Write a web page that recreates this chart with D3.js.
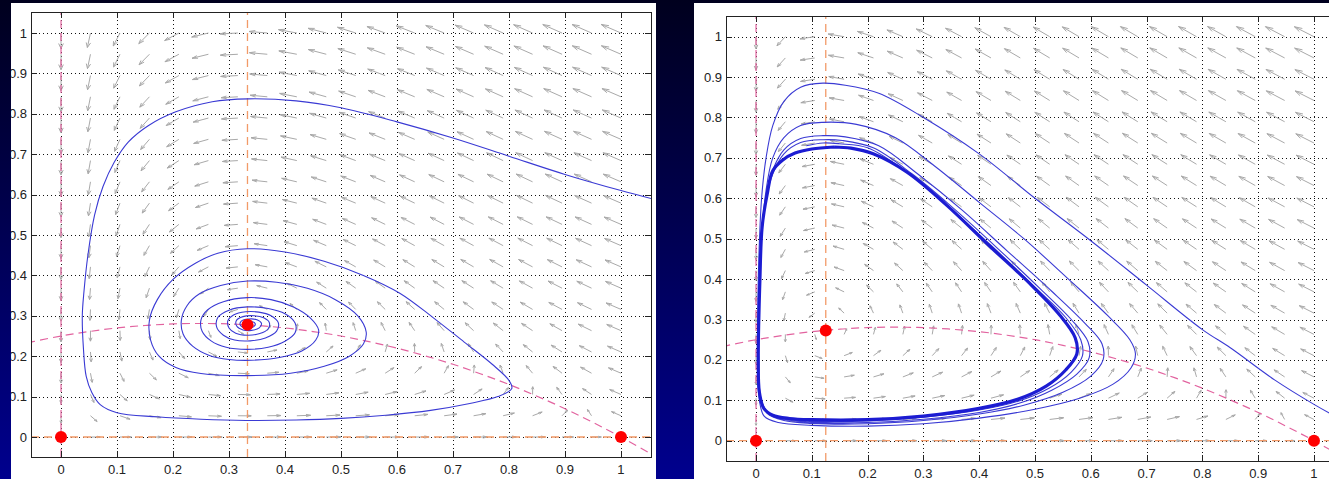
<!DOCTYPE html>
<html>
<head>
<meta charset="utf-8">
<script src="https://cdn.jsdelivr.net/npm/d3@7"></script>
<style>
html, body { margin: 0; padding: 0; background: #000030; }
svg { display: block; }
.tick-label { font-family: "Liberation Sans", Arial, sans-serif; font-size: 13px; fill: #222; }
</style>
</head>
<body>
<div id="chart"></div>
<script>
var width = 1329;
var height = 479;

// quiver grid (linspace 0..1, 20 points) and axis ticks
var gridPts = [0, 0.0526, 0.1053, 0.1579, 0.2105, 0.2632, 0.3158, 0.3684, 0.4211, 0.4737, 0.5263, 0.5789, 0.6316, 0.6842, 0.7368, 0.7895, 0.8421, 0.8947, 0.9474, 1];
var tickVals = [0, 0.1, 0.2, 0.3, 0.4, 0.5, 0.6, 0.7, 0.8, 0.9, 1];
var tickLabels = ["0", "0.1", "0.2", "0.3", "0.4", "0.5", "0.6", "0.7", "0.8", "0.9", "1"];

// prey velocity (same in both panels), rows = y index, cols = x index
var uField = [
  [0, .050, .094, .133, .166, .194, .216, .233, .244, .249, .249, .244, .233, .216, .194, .166, .133, .094, .050, 0],
  [0, .040, .076, .108, .135, .158, .175, .188, .196, .198, .195, .187, .174, .155, .131, .102, .067, .027, -.019, -.070],
  [0, .030, .058, .083, .104, .121, .135, .143, .148, .147, .141, .131, .115, .095, .069, .037, .001, -.041, -.088, -.140],
  [0, .020, .039, .057, .073, .085, .094, .099, .099, .096, .087, .074, .056, .034, .006, -.027, -.065, -.108, -.157, -.211],
  [0, .010, .021, .032, .041, .049, .053, .054, .051, .045, .033, .018, -.002, -.027, -.057, -.092, -.131, -.176, -.226, -.281],
  [0, -.0002, .003, .007, .010, .012, .012, .009, .003, -.007, -.021, -.039, -.061, -.088, -.120, -.156, -.197, -.243, -.295, -.351],
  [0, -.010, -.016, -.019, -.021, -.024, -.028, -.035, -.045, -.058, -.075, -.095, -.120, -.149, -.182, -.221, -.263, -.311, -.364, -.421],
  [0, -.020, -.034, -.044, -.052, -.060, -.069, -.080, -.093, -.109, -.129, -.152, -.179, -.210, -.245, -.285, -.329, -.379, -.432, -.491],
  [0, -.030, -.052, -.069, -.083, -.097, -.110, -.125, -.141, -.160, -.183, -.208, -.237, -.271, -.308, -.349, -.395, -.446, -.501, -.561],
  [0, -.040, -.071, -.094, -.115, -.133, -.151, -.169, -.189, -.212, -.237, -.265, -.296, -.331, -.371, -.414, -.461, -.514, -.570, -.632],
  [0, -.050, -.089, -.120, -.146, -.169, -.191, -.214, -.237, -.263, -.291, -.321, -.355, -.392, -.433, -.478, -.528, -.581, -.639, -.702],
  [0, -.060, -.107, -.145, -.177, -.205, -.232, -.259, -.286, -.314, -.345, -.378, -.414, -.453, -.496, -.543, -.594, -.649, -.708, -.772],
  [0, -.070, -.126, -.170, -.208, -.242, -.273, -.303, -.334, -.365, -.399, -.434, -.472, -.514, -.559, -.607, -.660, -.716, -.777, -.842],
  [0, -.080, -.144, -.195, -.239, -.278, -.314, -.348, -.382, -.416, -.453, -.491, -.531, -.575, -.621, -.672, -.726, -.784, -.846, -.912],
  [0, -.091, -.162, -.221, -.270, -.314, -.354, -.393, -.430, -.468, -.506, -.547, -.590, -.635, -.684, -.736, -.792, -.851, -.915, -.982],
  [0, -.100, -.180, -.246, -.302, -.351, -.395, -.437, -.478, -.519, -.560, -.603, -.649, -.696, -.747, -.801, -.858, -.919, -.984, -1.053],
  [0, -.111, -.199, -.271, -.333, -.387, -.436, -.482, -.526, -.570, -.614, -.660, -.707, -.757, -.810, -.865, -.924, -.986, -1.053, -1.123],
  [0, -.121, -.217, -.297, -.364, -.423, -.477, -.527, -.574, -.621, -.668, -.716, -.766, -.818, -.872, -.929, -.990, -1.054, -1.121, -1.193],
  [0, -.131, -.235, -.322, -.395, -.460, -.517, -.571, -.622, -.673, -.722, -.773, -.825, -.879, -.935, -.994, -1.056, -1.121, -1.190, -1.263],
  [0, -.141, -.254, -.347, -.426, -.496, -.558, -.616, -.671, -.724, -.776, -.829, -.884, -.940, -.998, -1.058, -1.122, -1.189, -1.259, -1.333]
];

// predator velocity, left panel
var vFieldLeft = [
  [0, 0, 0, 0, 0, 0, 0, 0, 0, 0, 0, 0, 0, 0, 0, 0, 0, 0, 0, 0],
  [-.063, -.048, -.036, -.025, -.016, -.009, -.002, .004, .009, .014, .018, .022, .025, .028, .031, .034, .036, .038, .040, .042],
  [-.126, -.096, -.071, -.051, -.033, -.017, -.004, .008, .018, .027, .036, .043, .050, .056, .062, .067, .072, .076, .080, .084],
  [-.189, -.144, -.107, -.076, -.049, -.026, -.006, .011, .027, .041, .053, .065, .075, .084, .093, .101, .108, .114, .121, .126],
  [-.253, -.192, -.143, -.101, -.065, -.035, -.008, .015, .036, .055, .071, .086, .100, .112, .124, .134, .144, .153, .161, .168],
  [-.316, -.241, -.178, -.126, -.082, -.044, -.010, .019, .045, .068, .089, .108, .125, .140, .155, .168, .180, .191, .201, .211],
  [-.379, -.289, -.214, -.152, -.098, -.052, -.012, .023, .054, .082, .107, .129, .150, .168, .185, .201, .215, .229, .241, .253],
  [-.442, -.337, -.250, -.177, -.115, -.061, -.014, .027, .063, .096, .125, .151, .175, .196, .216, .235, .251, .267, .281, .295],
  [-.505, -.385, -.286, -.202, -.131, -.070, -.016, .031, .072, .109, .143, .173, .200, .225, .247, .268, .287, .305, .322, .337],
  [-.568, -.433, -.321, -.227, -.147, -.078, -.018, .034, .081, .123, .160, .194, .225, .253, .278, .302, .323, .343, .362, .379],
  [-.632, -.481, -.357, -.253, -.164, -.087, -.020, .038, .090, .137, .178, .216, .250, .281, .309, .335, .359, .381, .402, .421],
  [-.695, -.529, -.393, -.278, -.180, -.096, -.022, .042, .099, .150, .196, .237, .275, .309, .340, .369, .395, .419, .442, .463],
  [-.758, -.577, -.428, -.303, -.196, -.105, -.024, .046, .108, .164, .214, .259, .300, .337, .371, .402, .431, .458, .482, .505],
  [-.821, -.626, -.464, -.328, -.213, -.113, -.026, .050, .117, .178, .232, .280, .325, .365, .402, .436, .467, .496, .522, .547],
  [-.884, -.674, -.500, -.354, -.229, -.122, -.029, .054, .126, .191, .249, .302, .350, .393, .433, .469, .503, .534, .563, .589],
  [-.947, -.722, -.535, -.379, -.246, -.131, -.031, .057, .135, .205, .267, .323, .375, .421, .464, .503, .539, .572, .603, .632],
  [-1.011, -.770, -.571, -.404, -.262, -.139, -.033, .061, .144, .218, .285, .345, .400, .449, .495, .536, .575, .610, .643, .674],
  [-1.074, -.818, -.607, -.429, -.278, -.148, -.035, .065, .153, .232, .303, .367, .424, .477, .525, .570, .611, .648, .683, .716],
  [-1.137, -.866, -.643, -.455, -.295, -.157, -.037, .069, .162, .246, .321, .388, .449, .505, .556, .603, .646, .686, .723, .758],
  [-1.2, -.914, -.678, -.48, -.311, -.166, -.039, .073, .171, .259, .338, .410, .474, .533, .587, .637, .682, .725, .764, .8]
];

// predator velocity, right panel
var vFieldRight = [
  [0, 0, 0, 0, 0, 0, 0, 0, 0, 0, 0, 0, 0, 0, 0, 0, 0, 0, 0, 0],
  [-.021, -.011, -.003, .004, .010, .015, .020, .024, .027, .030, .033, .035, .038, .040, .042, .043, .045, .046, .048, .049],
  [-.042, -.022, -.005, .008, .020, .030, .039, .047, .054, .060, .066, .071, .075, .080, .083, .087, .090, .093, .096, .098],
  [-.063, -.033, -.008, .013, .030, .046, .059, .071, .081, .090, .099, .106, .113, .119, .125, .130, .135, .139, .144, .147],
  [-.084, -.044, -.011, .017, .041, .061, .079, .094, .108, .121, .132, .142, .151, .159, .167, .174, .180, .186, .191, .196],
  [-.105, -.055, -.014, .021, .051, .076, .098, .118, .135, .151, .165, .177, .188, .199, .208, .217, .225, .232, .239, .246],
  [-.126, -.066, -.016, .025, .061, .091, .118, .142, .162, .181, .198, .213, .226, .239, .250, .260, .270, .279, .287, .295],
  [-.147, -.077, -.019, .029, .071, .107, .138, .165, .189, .211, .230, .248, .264, .278, .292, .304, .315, .325, .335, .344],
  [-.168, -.088, -.022, .034, .081, .122, .158, .189, .217, .241, .263, .283, .302, .318, .333, .347, .360, .372, .383, .393],
  [-.189, -.099, -.025, .038, .091, .137, .177, .212, .244, .271, .296, .319, .339, .358, .375, .391, .405, .418, .431, .442],
  [-.211, -.110, -.027, .042, .101, .152, .197, .236, .271, .302, .329, .354, .377, .398, .417, .434, .450, .465, .478, .491],
  [-.232, -.121, -.030, .046, .111, .168, .217, .260, .298, .332, .362, .390, .415, .437, .458, .477, .495, .511, .526, .540],
  [-.253, -.132, -.033, .051, .122, .183, .236, .283, .325, .362, .395, .425, .452, .477, .500, .521, .540, .558, .574, .589],
  [-.274, -.143, -.036, .055, .132, .198, .256, .307, .352, .392, .428, .461, .490, .517, .542, .564, .585, .604, .622, .639],
  [-.295, -.154, -.038, .059, .142, .213, .276, .330, .379, .422, .461, .496, .528, .557, .583, .608, .630, .651, .670, .688],
  [-.316, -.165, -.041, .063, .152, .229, .295, .354, .406, .452, .494, .531, .565, .596, .625, .651, .675, .697, .718, .737],
  [-.337, -.176, -.044, .067, .162, .244, .315, .378, .433, .482, .527, .567, .603, .636, .667, .694, .720, .744, .766, .786],
  [-.358, -.187, -.047, .072, .172, .259, .335, .401, .460, .513, .560, .602, .641, .676, .708, .738, .765, .790, .813, .835],
  [-.379, -.199, -.049, .076, .182, .274, .354, .425, .487, .543, .593, .638, .679, .716, .750, .781, .810, .837, .861, .884],
  [-.4, -.210, -.052, .080, .193, .290, .374, .449, .514, .573, .626, .673, .716, .756, .792, .824, .855, .883, .909, .933]
];

// prey nullcline (pink dashed curve)
var preyNullcline = [[-0.06, 0.233], [-0.05, 0.236], [0, 0.25], [0.05, 0.261], [0.1, 0.27], [0.15, 0.276], [0.2, 0.28], [0.25, 0.281], [0.3, 0.28], [0.35, 0.276], [0.4, 0.27], [0.45, 0.261], [0.5, 0.25], [0.55, 0.236], [0.6, 0.22], [0.65, 0.201], [0.7, 0.18], [0.75, 0.156], [0.8, 0.13], [0.85, 0.101], [0.9, 0.07], [0.95, 0.036], [1.0, 0], [1.05, -0.039], [1.06, -0.047]];

var predNullLeft = 0.333;
var predNullRight = 0.125;
var equilibriaLeft = [[0, 0], [1, 0], [0.333, 0.278]];
var equilibriaRight = [[0, 0], [1, 0], [0.125, 0.273]];

// left panel trajectory: spiral into the coexistence point
var orbitLeft = [
  [1.06, 0.588], [1.0, 0.61], [0.9, 0.65], [0.8, 0.695], [0.7, 0.74], [0.6, 0.78], [0.5, 0.815], [0.42, 0.832], [0.334, 0.837],
  [0.27, 0.83], [0.205, 0.805], [0.155, 0.77], [0.12, 0.73], [0.095, 0.68], [0.075, 0.62], [0.06, 0.55], [0.048, 0.45], [0.041, 0.36],
  [0.038, 0.3], [0.04, 0.22], [0.045, 0.15], [0.055, 0.11], [0.07, 0.08], [0.1, 0.06], [0.171, 0.05], [0.25, 0.044], [0.33, 0.041], [0.42, 0.042],
  [0.5, 0.046], [0.58, 0.054], [0.66, 0.066], [0.73, 0.083], [0.78, 0.1], [0.805, 0.12], [0.8, 0.14], [0.77, 0.18], [0.72, 0.235],
  [0.665, 0.295], [0.605, 0.356], [0.54, 0.4], [0.47, 0.435], [0.4, 0.458], [0.333, 0.466], [0.28, 0.455], [0.24, 0.43], [0.2, 0.39],
  [0.172, 0.34], [0.158, 0.29], [0.16, 0.24], [0.175, 0.2], [0.205, 0.172], [0.25, 0.157], [0.333, 0.152], [0.41, 0.158], [0.47, 0.175],
  [0.515, 0.2], [0.54, 0.23], [0.545, 0.26], [0.53, 0.3], [0.49, 0.34], [0.44, 0.368], [0.385, 0.383], [0.333, 0.386], [0.285, 0.375],
  [0.248, 0.355], [0.225, 0.325], [0.215, 0.29], [0.218, 0.255], [0.235, 0.225], [0.265, 0.202], [0.3, 0.192], [0.34, 0.19], [0.39, 0.197],
  [0.43, 0.213], [0.455, 0.24], [0.46, 0.265], [0.445, 0.295], [0.415, 0.322], [0.375, 0.34], [0.333, 0.345], [0.29, 0.335], [0.262, 0.315],
  [0.25, 0.29], [0.252, 0.262], [0.268, 0.238], [0.295, 0.222], [0.333, 0.217], [0.37, 0.222], [0.4, 0.237], [0.418, 0.258], [0.418, 0.282],
  [0.4, 0.305], [0.37, 0.318], [0.333, 0.322], [0.3, 0.314], [0.28, 0.296], [0.278, 0.272], [0.29, 0.252], [0.31, 0.24], [0.338, 0.238],
  [0.365, 0.245], [0.385, 0.262], [0.388, 0.283], [0.375, 0.3], [0.353, 0.309], [0.33, 0.31], [0.308, 0.302], [0.298, 0.288], [0.3, 0.27],
  [0.312, 0.257], [0.333, 0.252], [0.355, 0.256], [0.37, 0.268], [0.372, 0.283], [0.362, 0.295], [0.345, 0.3], [0.325, 0.298], [0.313, 0.288],
  [0.314, 0.274], [0.325, 0.265], [0.34, 0.264], [0.354, 0.27], [0.358, 0.281], [0.35, 0.29], [0.335, 0.292], [0.322, 0.287], [0.32, 0.277],
  [0.33, 0.27], [0.343, 0.272], [0.347, 0.28], [0.34, 0.286], [0.33, 0.284], [0.327, 0.278], [0.333, 0.275], [0.338, 0.279]
];

// right panel trajectory: winds in onto the limit cycle
var orbitRight = [
  [1.065, 0.04], [1.0, 0.09], [0.93, 0.15], [0.85, 0.23], [0.8, 0.275], [0.7, 0.385], [0.6, 0.495], [0.5, 0.6], [0.4, 0.71], [0.3, 0.8],
  [0.22, 0.86], [0.16, 0.88], [0.12, 0.885], [0.08, 0.875], [0.05, 0.84], [0.03, 0.78], [0.018, 0.7], [0.01, 0.6], [0.005, 0.45],
  [0.003, 0.3], [0.003, 0.18], [0.006, 0.1], [0.015, 0.06], [0.04, 0.045], [0.1, 0.038], [0.2, 0.036], [0.3, 0.042], [0.4, 0.056],
  [0.5, 0.078], [0.58, 0.105], [0.64, 0.14], [0.672, 0.18], [0.68, 0.215], [0.67, 0.25], [0.63, 0.31], [0.56, 0.4], [0.48, 0.5],
  [0.4, 0.59], [0.32, 0.68], [0.25, 0.75], [0.18, 0.783], [0.12, 0.788], [0.08, 0.78], [0.05, 0.75], [0.03, 0.7], [0.018, 0.62],
  [0.01, 0.5], [0.006, 0.35], [0.005, 0.2], [0.008, 0.11], [0.02, 0.068], [0.05, 0.05], [0.1, 0.043], [0.2, 0.042], [0.3, 0.05],
  [0.4, 0.066], [0.48, 0.088], [0.55, 0.12], [0.6, 0.16], [0.622, 0.2], [0.62, 0.24], [0.59, 0.29], [0.53, 0.37], [0.45, 0.47],
  [0.37, 0.57], [0.29, 0.66], [0.22, 0.73], [0.16, 0.752], [0.12, 0.755], [0.08, 0.748], [0.05, 0.72], [0.03, 0.67], [0.017, 0.6],
  [0.01, 0.5], [0.006, 0.35], [0.005, 0.2], [0.008, 0.11], [0.02, 0.07], [0.05, 0.053], [0.1, 0.046], [0.2, 0.045], [0.3, 0.053],
  [0.4, 0.07], [0.47, 0.092], [0.53, 0.125], [0.575, 0.165], [0.597, 0.205], [0.595, 0.245], [0.565, 0.3], [0.51, 0.375], [0.43, 0.48],
  [0.35, 0.58], [0.28, 0.66], [0.21, 0.725], [0.155, 0.743], [0.12, 0.745], [0.08, 0.738], [0.05, 0.71], [0.03, 0.66], [0.018, 0.6],
  [0.01, 0.5], [0.006, 0.35], [0.005, 0.2], [0.008, 0.11], [0.02, 0.072], [0.05, 0.056], [0.1, 0.049], [0.2, 0.049], [0.3, 0.058],
  [0.4, 0.076], [0.47, 0.098], [0.525, 0.13], [0.565, 0.17], [0.585, 0.21], [0.582, 0.25], [0.555, 0.305], [0.5, 0.38], [0.42, 0.485],
  [0.34, 0.585], [0.27, 0.665], [0.2, 0.725], [0.15, 0.735], [0.12, 0.737], [0.09, 0.73]
];

var limitCycle = [
  [0.14, 0.727], [0.1, 0.722], [0.07, 0.712], [0.048, 0.695], [0.03, 0.668], [0.02, 0.61], [0.011, 0.53], [0.007, 0.4], [0.004, 0.2],
  [0.006, 0.12], [0.014, 0.08], [0.03, 0.063], [0.06, 0.055], [0.1, 0.052], [0.2, 0.052], [0.3, 0.061], [0.4, 0.08], [0.47, 0.103],
  [0.52, 0.135], [0.555, 0.175], [0.575, 0.215], [0.572, 0.255], [0.545, 0.31], [0.49, 0.39], [0.42, 0.48], [0.34, 0.585], [0.27, 0.665],
  [0.21, 0.71], [0.17, 0.724], [0.14, 0.727]
];

// drawing

var svg = d3.select("#chart").append("svg")
    .attr("width", width)
    .attr("height", height);

var defs = svg.append("defs");

var grad = defs.append("linearGradient")
    .attr("id", "bg")
    .attr("x1", 0).attr("y1", 0).attr("x2", 0).attr("y2", 1);
grad.append("stop").attr("offset", "0%").attr("stop-color", "#00001e");
grad.append("stop").attr("offset", "45%").attr("stop-color", "#00004e");
grad.append("stop").attr("offset", "100%").attr("stop-color", "#00008e");

svg.append("rect")
    .attr("width", width)
    .attr("height", height)
    .attr("fill", "url(#bg)");

var panels = [
    {id: "L", fig: [11, 3, 645, 476], box: [31, 12, 651, 457], xDom: [-0.0536, 1.0536], yDom: [-0.0495, 1.052],
     v: vFieldLeft, xStar: predNullLeft, eq: equilibriaLeft, orbit: orbitLeft, cycle: null, arrowK: 0.037},
    {id: "R", fig: [694, 3, 640, 476], box: [726, 16, 1344, 461], xDom: [-0.0538, 1.0538], yDom: [-0.0502, 1.0512],
     v: vFieldRight, xStar: predNullRight, eq: equilibriaRight, orbit: orbitRight, cycle: limitCycle, arrowK: 0.038}
];

var pink = "#e2639f";
var orange = "#f29a68";
var blue = "#3a3ad4";

function drawPanel(p) {
    defs.append("clipPath").attr("id", "fig" + p.id)
        .append("rect")
        .attr("x", p.fig[0]).attr("y", p.fig[1])
        .attr("width", p.fig[2]).attr("height", p.fig[3]);
    defs.append("clipPath").attr("id", "plot" + p.id)
        .append("rect")
        .attr("x", p.box[0]).attr("y", p.box[1])
        .attr("width", p.box[2] - p.box[0]).attr("height", p.box[3] - p.box[1]);

    var g = svg.append("g").attr("clip-path", "url(#fig" + p.id + ")");

    g.append("rect")
        .attr("x", p.fig[0]).attr("y", p.fig[1])
        .attr("width", p.fig[2]).attr("height", p.fig[3])
        .attr("fill", "#ffffff");

    var x = d3.scaleLinear().domain(p.xDom).range([p.box[0], p.box[2]]);
    var y = d3.scaleLinear().domain(p.yDom).range([p.box[3], p.box[1]]);

    // dotted grid
    var grid = g.append("g")
        .attr("stroke", "#111")
        .attr("stroke-width", 1)
        .attr("stroke-dasharray", "1,3");
    grid.selectAll(".gx").data(tickVals).enter().append("line")
        .attr("x1", function (d) { return Math.round(x(d)) + 0.5; })
        .attr("x2", function (d) { return Math.round(x(d)) + 0.5; })
        .attr("y1", p.box[1]).attr("y2", p.box[3]);
    grid.selectAll(".gy").data(tickVals).enter().append("line")
        .attr("y1", function (d) { return Math.round(y(d)) + 0.5; })
        .attr("y2", function (d) { return Math.round(y(d)) + 0.5; })
        .attr("x1", p.box[0]).attr("x2", p.box[2]);

    var plot = g.append("g").attr("clip-path", "url(#plot" + p.id + ")");

    // quiver, arrowheads built the matlab way (in data units)
    var arrows = [];
    gridPts.forEach(function (gy, j) {
        gridPts.forEach(function (gx, i) {
            var u = uField[j][i], v = p.v[j][i];
            var m = Math.sqrt(u * u + v * v);
            if (m < 1e-9) return;
            var s = p.arrowK * Math.pow(m, -0.75);
            arrows.push({x0: gx, y0: gy, u: u * s, v: v * s});
        });
    });
    var alpha = 0.33, beta = 0.33;
    var arrowD = arrows.map(function (a) {
        var tx = a.x0 + a.u, ty = a.y0 + a.v;
        var h1x = tx - alpha * (a.u + beta * a.v), h1y = ty - alpha * (a.v - beta * a.u);
        var h2x = tx - alpha * (a.u - beta * a.v), h2y = ty - alpha * (a.v + beta * a.u);
        return "M" + x(a.x0) + "," + y(a.y0) + "L" + x(tx) + "," + y(ty) +
            "M" + x(h1x) + "," + y(h1y) + "L" + x(tx) + "," + y(ty) + "L" + x(h2x) + "," + y(h2y);
    }).join("");
    plot.append("path")
        .attr("d", arrowD)
        .attr("fill", "none")
        .attr("stroke", "#a9a9a9")
        .attr("stroke-width", 1);

    // nullclines
    plot.append("line")
        .attr("x1", x(0)).attr("x2", x(0))
        .attr("y1", p.box[3]).attr("y2", p.box[1])
        .attr("stroke", pink).attr("stroke-width", 1.2).attr("stroke-dasharray", "8,5");
    plot.append("line")
        .attr("x1", p.box[0]).attr("x2", p.box[2])
        .attr("y1", y(0)).attr("y2", y(0))
        .attr("stroke", orange).attr("stroke-width", 1.3).attr("stroke-dasharray", "8,5");
    plot.append("line")
        .attr("x1", x(p.xStar)).attr("x2", x(p.xStar))
        .attr("y1", p.box[3]).attr("y2", p.box[1])
        .attr("stroke", orange).attr("stroke-width", 1.3).attr("stroke-dasharray", "8,5");

    var line = d3.line()
        .x(function (d) { return x(d[0]); })
        .y(function (d) { return y(d[1]); })
        .curve(d3.curveCatmullRom.alpha(0.5));

    plot.append("path")
        .attr("d", line(preyNullcline))
        .attr("fill", "none")
        .attr("stroke", pink).attr("stroke-width", 1.2).attr("stroke-dasharray", "8,5");

    // trajectories
    plot.append("path")
        .attr("d", line(p.orbit))
        .attr("fill", "none")
        .attr("stroke", blue)
        .attr("stroke-width", 1.1);
    if (p.cycle) {
        plot.append("path")
            .attr("d", line(p.cycle))
            .attr("fill", "none")
            .attr("stroke", "#1c1cd2")
            .attr("stroke-width", 3.2);
    }

    // equilibria
    plot.selectAll(".eq").data(p.eq).enter().append("circle")
        .attr("cx", function (d) { return x(d[0]); })
        .attr("cy", function (d) { return y(d[1]); })
        .attr("r", 6)
        .attr("fill", "#ff0000");

    // box and ticks (inside, all four sides)
    g.append("rect")
        .attr("x", p.box[0] + 0.5).attr("y", p.box[1] + 0.5)
        .attr("width", p.box[2] - p.box[0]).attr("height", p.box[3] - p.box[1])
        .attr("fill", "none").attr("stroke", "#222").attr("stroke-width", 1);

    var ticks = g.append("g").attr("stroke", "#222").attr("stroke-width", 1);
    var tl = 6;
    tickVals.forEach(function (d) {
        var px = Math.round(x(d)) + 0.5, py = Math.round(y(d)) + 0.5;
        ticks.append("line").attr("x1", px).attr("x2", px).attr("y1", p.box[3]).attr("y2", p.box[3] - tl);
        ticks.append("line").attr("x1", px).attr("x2", px).attr("y1", p.box[1]).attr("y2", p.box[1] + tl);
        ticks.append("line").attr("y1", py).attr("y2", py).attr("x1", p.box[0]).attr("x2", p.box[0] + tl);
        ticks.append("line").attr("y1", py).attr("y2", py).attr("x1", p.box[2]).attr("x2", p.box[2] - tl);
    });

    g.selectAll(".xl").data(tickVals).enter().append("text")
        .attr("class", "tick-label")
        .attr("x", function (d) { return x(d); })
        .attr("y", p.box[3] + 16.5)
        .attr("text-anchor", "middle")
        .text(function (d, i) { return tickLabels[i]; });
    g.selectAll(".yl").data(tickVals).enter().append("text")
        .attr("class", "tick-label")
        .attr("x", p.box[0] - 4)
        .attr("y", function (d) { return y(d) + 4.5; })
        .attr("text-anchor", "end")
        .text(function (d, i) { return tickLabels[i]; });
}

panels.forEach(drawPanel);
</script>
</body>
</html>
